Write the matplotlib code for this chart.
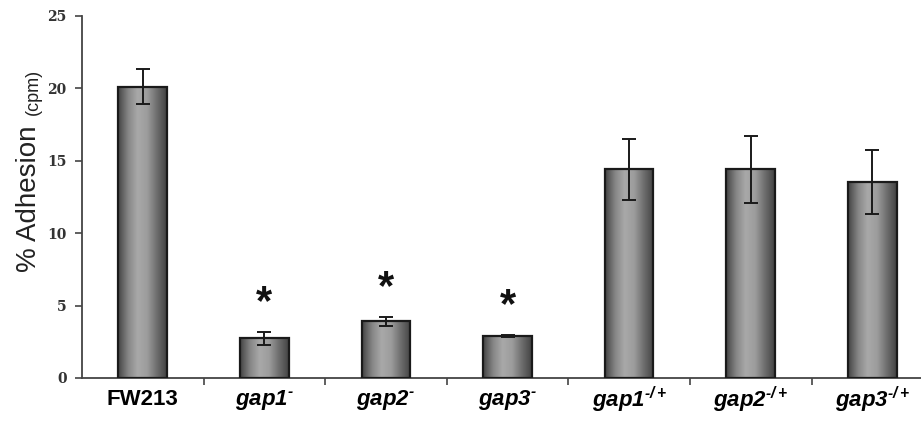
import numpy as np
import matplotlib
matplotlib.use("Agg")
import matplotlib.pyplot as plt
from matplotlib.colors import LinearSegmentedColormap

matplotlib.rcParams["mathtext.fontset"] = "custom"
matplotlib.rcParams["mathtext.rm"] = "Liberation Sans:italic:bold"
matplotlib.rcParams["mathtext.it"] = "Liberation Sans:italic:bold"

# ---------- Data ----------
strains = ["FW213", "gap1", "gap2", "gap3", "gap1", "gap2", "gap3"]
superscripts = ["", "-", "-", "-", "-/+", "-/+", "-/+"]
adhesion = [20.1, 2.75, 3.9, 2.9, 14.4, 14.4, 13.55]
errors = [1.2, 0.45, 0.3, 0.05, 2.1, 2.3, 2.2]
significant = [False, True, True, True, False, False, False]
y_ticks = [0, 5, 10, 15, 20, 25]

# ---------- Plot ----------
fig = plt.figure(figsize=(9.21, 4.28), dpi=100)
ax = fig.add_axes([0.089, 0.117, 0.911, 0.846])

x = np.arange(len(strains))
bars = ax.bar(x, adhesion, width=0.4, color="none", edgecolor="#1a1a1a",
              linewidth=1.6, zorder=3)

# cylinder-style grey shading inside each bar
shade = LinearSegmentedColormap.from_list(
    "shade", ["#454545", "#858585", "#a9a9a9", "#9c9c9c", "#6e6e6e", "#444444"])
grad = np.linspace(0, 1, 64).reshape(1, -1)
for rect in bars:
    x0, y0 = rect.get_x(), rect.get_y()
    w, h = rect.get_width(), rect.get_height()
    im = ax.imshow(grad, cmap=shade, aspect="auto",
                   extent=(x0, x0 + w, y0, y0 + h), zorder=2)
    im.set_clip_path(rect)

ax.errorbar(x, adhesion, yerr=errors, fmt="none", ecolor="#1a1a1a",
            elinewidth=1.4, capsize=5, capthick=1.4, zorder=4)

for xi, m, e, sig in zip(x, adhesion, errors, significant):
    if sig:
        ax.text(xi, m + e + 2.0, "*", ha="center", va="center",
                fontsize=30, fontweight="bold", family="Liberation Sans",
                color="#111111")

ax.set_xlim(-0.5, 6.4)
ax.set_ylim(0, 25)

ax.set_yticks(y_ticks)
ax.set_yticklabels([str(t) for t in y_ticks], family="DejaVu Serif",
                   fontweight="bold", fontsize=10, color="#333333")
ax.tick_params(axis="y", direction="out", length=5, width=1.2, color="#444444",
               pad=6)

# category boundary ticks, text labels under bars
ax.set_xticks(np.arange(len(strains) - 1) + 0.5)
ax.set_xticklabels([])
ax.tick_params(axis="x", direction="out", length=5, width=1.2, color="#444444")

for xi, name, sup in zip(x, strains, superscripts):
    if sup:
        label = name + r"$^{\mathrm{" + sup.replace("-", "\u2010") + "}}$"
        ax.text(xi, -1.5, label, ha="center", va="center", fontsize=16,
                family="Liberation Sans", fontweight="bold", style="italic",
                clip_on=False)
    else:
        ax.text(xi, -1.5, name, ha="center", va="center", fontsize=16,
                family="Liberation Sans", fontweight="bold", clip_on=False)

for spine in ("top", "right"):
    ax.spines[spine].set_visible(False)
for spine in ("left", "bottom"):
    ax.spines[spine].set_color("#444444")
    ax.spines[spine].set_linewidth(1.3)

fig.text(0.031, 0.535, "% Adhesion", rotation=90, ha="center", va="center",
         fontsize=20, family="Liberation Sans", color="#222222")
fig.text(0.036, 0.785, "(cpm)", rotation=90, ha="center", va="center",
         fontsize=13, family="Liberation Sans", color="#222222")

fig.savefig("out.png", dpi=100, facecolor="white")
